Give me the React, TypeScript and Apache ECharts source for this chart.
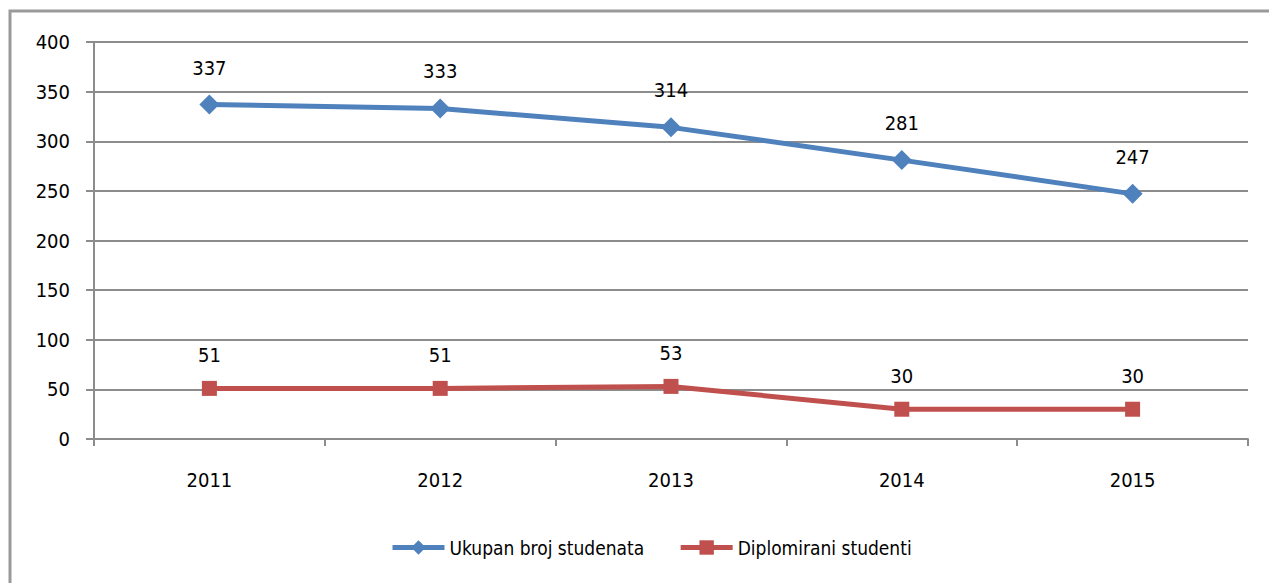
import React, { useEffect, useRef } from "react";
import * as echarts from "echarts";

const categories = ["2011", "2012", "2013", "2014", "2015"];
const ukupan = [337, 333, 314, 281, 247];
const diplomirani = [51, 51, 53, 30, 30];
const seriesNames = ["Ukupan broj studenata", "Diplomirani studenti"];

const FONT = "'Liberation Sans Narrow', 'DejaVu Sans Condensed', sans-serif";
const FS = 20;

export default function App() {
  const ref = useRef<HTMLDivElement>(null);
  useEffect(() => {
    if (!ref.current) return;
    const chart = echarts.init(ref.current, null, { renderer: "svg" });
    const gray = "#8c8c8c";
    chart.setOption({
      animation: false,
      backgroundColor: "#ffffff",
      textStyle: { fontFamily: FONT },
      graphic: [
        {
          type: "rect",
          shape: { x: 10, y: 11, width: 1270, height: 600 },
          style: { fill: "none", stroke: "#9a9a9a", lineWidth: 3 },
          silent: true,
        },
      ],
      grid: { left: 94, top: 42, right: 21, bottom: 144, containLabel: false },
      xAxis: {
        type: "category",
        data: categories,
        boundaryGap: true,
        axisLine: { lineStyle: { color: gray, width: 2 } },
        axisTick: { show: true, length: 7, lineStyle: { color: gray, width: 2 } },
        axisLabel: { color: "#000", fontFamily: FONT, fontSize: FS, margin: 31 },
      },
      yAxis: {
        type: "value",
        min: 0,
        max: 400,
        interval: 50,
        axisLine: { show: true, lineStyle: { color: gray, width: 2 } },
        axisTick: { show: true, length: 8, lineStyle: { color: gray, width: 2 } },
        axisLabel: { color: "#000", fontFamily: FONT, fontSize: FS, margin: 24 },
        splitLine: { show: true, lineStyle: { color: gray, width: 2 } },
      },
      legend: {
        bottom: 21,
        left: 385,
        itemWidth: 52,
        itemHeight: 18,
        itemGap: 34,
        lineStyle: { width: 5 },
        textStyle: { color: "#000", fontFamily: FONT, fontSize: FS - 1 },
        data: seriesNames,
      },
      series: [
        {
          name: seriesNames[0],
          type: "line",
          data: ukupan,
          color: "#4f81bd",
          symbol: "diamond",
          symbolSize: 20,
          lineStyle: { width: 5, color: "#4f81bd" },
          itemStyle: { color: "#4f81bd" },
          label: {
            show: true,
            position: "top",
            distance: 17,
            color: "#000",
            fontFamily: FONT,
            fontSize: FS,
          },
        },
        {
          name: seriesNames[1],
          type: "line",
          data: diplomirani,
          color: "#c0504d",
          symbol: "rect",
          symbolSize: 15,
          lineStyle: { width: 5, color: "#c0504d" },
          itemStyle: { color: "#c0504d" },
          label: {
            show: true,
            position: "top",
            distance: 16,
            color: "#000",
            fontFamily: FONT,
            fontSize: FS,
          },
        },
      ],
    });
    return () => chart.dispose();
  }, []);
  return (
    <div
      ref={ref}
      style={{ position: "fixed", left: 0, top: 0, width: 1269, height: 583 }}
    />
  );
}
